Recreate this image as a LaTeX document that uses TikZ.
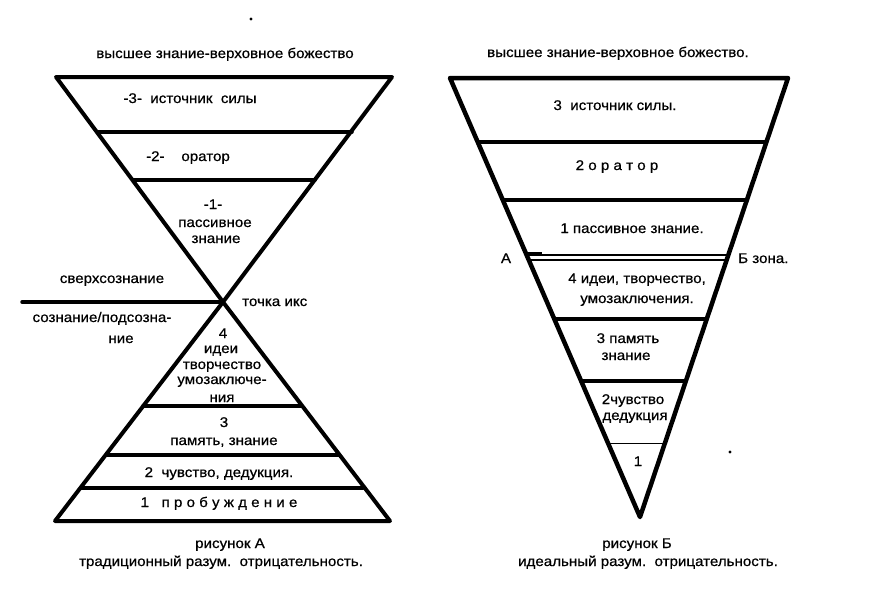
\documentclass[tikz,border=0pt]{standalone}
\usepackage{fontspec}
\setmainfont[FakeStretch=1.08,FakeBold=0.6]{Liberation Sans}
\begin{document}
\begin{tikzpicture}[x=1pt,y=-1pt,
  every node/.style={font=\fontsize{14}{16}\selectfont, inner sep=0pt},
  lbl/.style={anchor=base},
  lblw/.style={anchor=base west},
  side/.style={line width=4pt, line cap=round, line join=round},
  bar/.style={line width=3.5pt, line cap=round},
  thinbar/.style={line width=1pt},
  dotmark/.style={fill=black, draw=none}]
\useasboundingbox (0,0) rectangle (874,614);

% ---------- left figure (A) ----------
\coordinate (aTL) at (56,77);
\coordinate (aTR) at (392,77);
\coordinate (aX)  at (223,302);
\coordinate (aBL) at (55,521);
\coordinate (aBR) at (390,521);
\coordinate (aH)  at (22,302);
\coordinate (a1l) at (97,132);  \coordinate (a1r) at (352,132);
\coordinate (a2l) at (133,180); \coordinate (a2r) at (315,180);
\coordinate (a3l) at (143,406); \coordinate (a3r) at (302,406);
\coordinate (a4l) at (106,455); \coordinate (a4r) at (339,455);
\coordinate (a5l) at (81,488);  \coordinate (a5r) at (363,488);

\draw[side] (aTL) -- (aX) -- (aBR) -- (aBL) -- (aX) -- (aTR) -- cycle;
\draw[bar] (a1l) -- (a1r);
\draw[bar] (a2l) -- (a2r);
\draw[bar] (a3l) -- (a3r);
\draw[bar] (a4l) -- (a4r);
\draw[bar] (a5l) -- (a5r);
\draw[bar] (aH) -- (aX);
\fill[dotmark] (251,19) circle (1.7);

\node[lbl] (atitle) at (225,58) {высшее знание-верховное божество};
\node[lbl] (a3) at (190,103) {-3-\ \ источник\ \ силы};
\node[lbl] (a2) at (188,161) {-2-\ \ \ \ оратор};
\node[lbl] (a1a) at (213,209) {-1-};
\node[lbl] (a1b) at (215,227) {пассивное};
\node[lbl] (a1c) at (216,243) {знание};
\node[lbl] (asup) at (112,283) {сверхсознание};
\node[lblw] (ax) at (242,306) {точка икс};
\node[lbl] (asub1) at (102,322) {сознание/подсозна-};
\node[lbl] (asub2) at (121,343) {ние};
\node[lbl] (a4a) at (223,338) {4};
\node[lbl] (a4b) at (221,353) {идеи};
\node[lbl] (a4c) at (222,369) {творчество};
\node[lbl] (a4d) at (222,384) {умозаключе-};
\node[lbl] (a4e) at (222,402) {ния};
\node[lbl] (a3a) at (224,427) {3};
\node[lbl] (a3b) at (224,445) {память, знание};
\node[lbl] (a2x) at (219,477) {2\ \ чувство, дедукция.};
\node[lbl] (a1x) at (219,507) {1\ \ \ п р о б у ж д е н и е};
\node[lbl] (acap1) at (230,548) {рисунок А};
\node[lbl] (acap2) at (221,566) {традиционный разум.\ \ отрицательность.};

% ---------- right figure (B) ----------
\coordinate (bTL) at (450,78);
\coordinate (bTR) at (788,78);
\coordinate (bV)  at (640,517);
\coordinate (b1l) at (478,142); \coordinate (b1r) at (766,142);
\coordinate (b2l) at (503,200); \coordinate (b2r) at (747,200);
\coordinate (bAl) at (527,255); \coordinate (bAr) at (728,255);
\coordinate (bBl) at (529,260); \coordinate (bBr) at (727,260);
\coordinate (bSl) at (527,253); \coordinate (bSr) at (542,253);
\coordinate (b3l) at (554,319); \coordinate (b3r) at (707,319);
\coordinate (b4l) at (581,381); \coordinate (b4r) at (686,381);
\coordinate (b5l) at (608,443); \coordinate (b5r) at (665,443);

\draw[side, line width=4.5pt] (bTL) -- (bTR) -- (bV) -- cycle;
\draw[bar] (b1l) -- (b1r);
\draw[bar] (b2l) -- (b2r);
\draw[bar, line width=2.7pt] (bAl) -- (bAr);
\draw[bar, line width=2.7pt] (bBl) -- (bBr);
\draw[thinbar, line width=1.5pt] (bSl) -- (bSr);
\draw[bar] (b3l) -- (b3r);
\draw[bar] (b4l) -- (b4r);
\draw[thinbar] (b5l) -- (b5r);
\fill[dotmark] (730,452) circle (1.7);

\node[lbl] (btitle) at (618,57) {высшее знание-верховное божество.};
\node[lbl] (b3) at (615,110) {3\ \ источник силы.};
\node[lbl] (b2) at (617,170) {2 о р а т о р};
\node[lbl] (b1) at (632,233) {1 пассивное знание.};
\node[lbl] (bA) at (506,263) {А};
\node[lblw] (bB) at (738,263) {Б зона.};
\node[lbl] (b4a) at (637,283) {4 идеи, творчество,};
\node[lbl] (b4b) at (637,303) {умозаключения.};
\node[lbl] (b3a) at (628,343) {3 память};
\node[lbl] (b3b) at (626,360) {знание};
\node[lbl] (b2a) at (633,404) {2чувство};
\node[lbl] (b2b) at (635,420) {дедукция};
\node[lbl] (b1x) at (638,466) {1};
\node[lbl] (bcap1) at (637,548) {рисунок Б};
\node[lbl] (bcap2) at (648,566) {идеальный разум.\ \ отрицательность.};
\end{tikzpicture}
\end{document}
